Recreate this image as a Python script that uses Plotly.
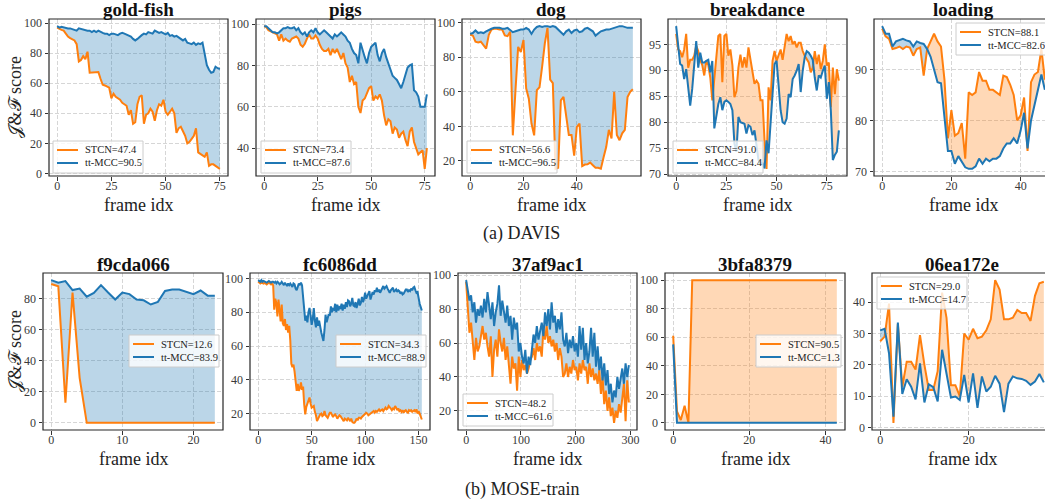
import plotly.graph_objects as go

W, H = 1045, 501

# ------------------------------------------------------------------ data
TITLES = ["gold-fish", "pigs", "dog", "breakdance", "loading",
          "f9cda066", "fc6086dd", "37af9ac1", "3bfa8379", "06ea172e"]
LABELS_STCN = ["STCN=47.4", "STCN=73.4", "STCN=56.6", "STCN=91.0", "STCN=88.1",
               "STCN=12.6", "STCN=34.3", "STCN=48.2", "STCN=90.5", "STCN=29.0"]
LABELS_TT = ["tt-MCC=90.5", "tt-MCC=87.6", "tt-MCC=96.5", "tt-MCC=84.4", "tt-MCC=82.6",
             "tt-MCC=83.9", "tt-MCC=88.9", "tt-MCC=61.6", "tt-MCC=1.3", "tt-MCC=14.7"]
CAPTIONS = ["(a) DAVIS", "(b) MOSE-train"]
X_TITLE = "frame idx"
Y_TITLE = "𝒥&ℱ score"

GOLD_STCN = [97, 96, 95.5, 95, 93, 91, 90, 89, 88.5, 86,
             74.5, 75.5, 78, 76, 81, 67, 67, 67.5, 67, 67.5,
             63, 59, 58.5, 58, 57, 50, 53, 51, 50, 49,
             47, 46, 45, 39, 42, 33, 34, 46, 51, 52,
             33, 39, 40, 43, 41, 35, 42, 46, 45, 49,
             41, 39, 41, 43, 40, 27, 30, 31, 28, 25,
             20, 21, 23, 25, 30, 14, 13, 12, 11, 14,
             5, 6, 6, 5, 4, 3]
GOLD_TT = [98, 97, 97.5, 97, 97, 96.5, 96.5, 96, 96, 95,
           96.5, 96, 95.5, 95.5, 95, 95, 94, 95, 94, 95,
           94, 93.5, 93, 93, 92, 93, 93, 92.5, 92, 93,
           93.5, 93, 92.5, 92, 91, 89.5, 88.5, 89.5, 91, 92,
           93, 92.5, 94, 93.5, 93, 95, 94.5, 93.5, 94, 93,
           92.5, 93.5, 91.5, 92, 91, 91.5, 90.5, 90, 88.5, 89.5,
           87, 86.5, 86, 87, 85.5, 86.5, 86, 87, 80, 72,
           69, 67, 67.5, 71, 70, 69.5]

PIGS_STCN = [99, 98.5, 97, 96.5, 96, 95.5, 95, 92, 95, 92,
             93, 92, 91.5, 93, 93.5, 94, 93, 90, 89, 90.5,
             93, 95, 93, 93, 94.5, 93, 90, 88, 87, 87,
             88, 85, 88, 86, 88, 85, 83, 86, 81, 79,
             72, 75, 71, 72, 60, 57, 63, 64, 67, 69,
             70, 63, 65, 64, 66, 63, 56, 51, 54, 53,
             47, 50, 49, 45, 47, 48, 44, 41, 48, 50,
             43, 40, 37, 38, 39, 30, 40]
PIGS_TT = [99, 99, 98, 97, 96, 96, 95.5, 96, 97, 98,
           98, 98.5, 98, 98, 98.5, 97, 98, 96, 95, 96,
           94, 96, 97, 96, 98, 96, 95, 96, 97, 96,
           95, 94, 93, 95, 94, 95, 96, 95, 94, 92,
           91, 88, 86, 85, 81, 91, 87, 84, 81, 86,
           89, 90, 91, 85, 82, 86, 88, 84, 81, 78,
           75, 74, 73, 71, 69, 72, 75, 79, 80, 80.5,
           68, 67, 65, 60, 60, 60, 66]

DOG_STCN = [93, 92.6, 89, 88.5, 89, 87, 85, 93, 96, 96.5,
            96.5, 96, 96, 92.6, 92.2, 94.7, 34.8, 61, 86, 83,
            90, 62, 56, 41.6, 34.8, 61, 62.6, 74.7, 88, 97,
            67, 65, 15.4, 16, 55, 57, 47, 35, 35, 23,
            39.7, 41.6, 17, 17.9, 18, 19, 17.5, 16, 16, 15.5,
            22, 28, 38, 33, 60, 35, 32, 36, 38, 57, 60, 61.5]
DOG_TT = [93.5, 94, 95.5, 94, 94.5, 94, 95, 96, 96.5, 97,
          97, 97, 96.5, 96.5, 97, 96, 94.5, 95, 95.5, 96,
          96, 97, 96, 93.5, 96, 97.5, 98, 97.5, 98, 98,
          97.5, 98, 97.5, 96, 95, 93, 95, 96, 94, 95.5,
          96, 94.5, 95, 96.5, 97, 96, 95, 92.5, 94, 95,
          95.5, 96, 96, 96.5, 97, 97.5, 98, 98, 97.5, 97, 97, 97]

BREAK_STCN = [97, 94, 93.7, 92.5, 94, 97, 90.5, 92, 92, 92.8,
              94.7, 93.7, 92, 91, 89, 91.8, 91, 88.6, 84.2, 88,
              93, 96.6, 97, 87.7, 96.6, 97, 92.8, 94, 91, 84.8,
              86, 90.5, 93, 90.5, 92.5, 90.5, 94.4, 92, 89.6, 87.4,
              88, 87.4, 84.2, 84.2, 76.5, 71, 86.7, 84.2, 91.8, 93.7,
              91.8, 93, 94, 92, 95, 97, 95.6, 96.6, 95, 95.6,
              94.4, 95.3, 95.3, 93.7, 92.8, 92, 91.5, 89.6, 90.5, 93.7,
              91.2, 93, 90.2, 91.8, 95, 90.9, 91.5, 82.9, 90.5, 85.4,
              90.2, 88]
BREAK_TT = [98.5, 94, 91.2, 90.9, 88.3, 90.2, 86.7, 83.2, 86.4, 90.5,
            95.6, 90.5, 93.4, 91.5, 91.5, 91.8, 92, 89.6, 91.8, 78.8,
            81.6, 83.5, 84.8, 82.3, 83.9, 84.2, 83.9, 83.5, 82.3, 75.9,
            74.3, 81, 80, 79.8, 79.7, 77.8, 79.4, 79.1, 77.5, 78.4,
            75.9, 72.7, 72.1, 72.1, 71.1, 76.5, 74, 79.7, 86.1, 91.2,
            91.8, 86.1, 82.3, 80, 79.7, 80.7, 85.4, 84.8, 88.3, 89,
            89.9, 91.2, 85.8, 89.9, 92.5, 93.7, 93.4, 92.8, 92, 88.6,
            86.1, 89, 88.6, 89.9, 90.9, 84.5, 87.7, 82.3, 72.7, 73.7,
            74.3, 78.4]

LOAD_STCN = [98, 96.5, 96, 94, 94.2, 94.5, 94, 94.5, 94.3, 92.7,
             94, 94.3, 88.8, 94, 95.5, 97, 95.5, 94.5, 88, 76.5,
             82, 77, 77.5, 79.5, 72.5, 85.5, 85, 85.5, 89.5, 87.8,
             87.8, 86, 86, 85.5, 85, 88.8, 88.5, 87, 85, 80,
             81, 84.5, 74, 87.5, 89, 89.5, 94, 88]
LOAD_TT = [98.5, 97, 97, 94.5, 95.5, 95.8, 96, 95.7, 95.5, 94.5,
           95.5, 95.2, 95, 94, 92.5, 90, 87.5, 87.3, 80, 74,
           74, 71.5, 73, 72, 70.8, 70.5, 70.5, 71, 72.5, 71.5,
           72.5, 72, 72.5, 72.5, 73, 74.5, 75.5, 75.5, 76.5, 75.5,
           78, 81.5, 74.5, 80, 83, 85.5, 89, 86]

F9_STCN = [89.5, 88, 13, 84, 29, 0, 0, 0, 0, 0, 0, 0,
           0, 0, 0, 0, 0, 0, 0, 0, 0, 0, 0, 0]
F9_TT = [92, 90.3, 91.4, 85.6, 86.6, 81.3, 83.8, 88.8, 84, 79.5, 84, 83,
         79.5, 79, 76.3, 78, 85, 86, 86, 84.5, 83, 85.3, 82, 82]

FC_STCN = [98, 97.5, 97, 97.5, 97, 97, 97.5, 97, 96.5, 97, 97.5, 97, 96.5, 97, 96,
           81.5, 88, 85.5, 77.5, 87.5, 79.5, 74.5, 84.5, 73.5, 72, 76, 69.5, 73, 68, 72,
           63.5, 49.5, 47.5, 49, 45, 39.5, 33.5, 37.5, 33.5, 35, 38.5, 34, 36, 25.5, 19.5,
           24, 25.5, 28, 29.5, 26, 23.5, 24, 24.5, 21, 19, 15.5, 17, 18, 19.5, 20,
           18.5, 19, 21.5, 19, 18, 17.5, 19, 20.5, 20.5, 19, 18, 19, 19.5, 18.5, 17,
           18, 19, 18.5, 17, 16.5, 15.5, 17, 16.5, 16, 17.5, 16, 15.5, 17, 15, 14.5,
           14.5, 15.5, 17, 16, 17.5, 17.5, 17, 18, 18.5, 19, 19.5, 20.5, 20, 19, 19.5,
           20, 20.5, 21, 21.5, 20.5, 21.5, 21, 22, 22.5, 21.5, 22, 22.5, 21.5, 23, 23.5,
           22.5, 23, 24.5, 24, 23, 22, 23, 22.5, 24.5, 23.5, 22, 23, 21.5, 22, 21,
           22, 20.5, 21.5, 22, 21, 20.5, 22, 21.5, 22, 21, 21.5, 22, 21, 22.5, 20,
           21.5, 20, 18, 16.5]
FC_TT = [99, 98.5, 98, 99, 98, 98.5, 98, 98, 97.5, 98, 98.5, 98, 97.5, 98, 98,
         97.5, 98, 97, 98, 97.5, 96.5, 97, 98, 97, 96, 97.5, 96.5, 95.5, 97, 96,
         97, 96, 95, 97, 96.5, 94, 93, 95, 97, 96, 97.5, 96, 88, 79.5, 75,
         78, 74, 80, 82.5, 78, 72.5, 76, 82.5, 75, 71, 77, 72, 75, 70, 68,
         65.5, 63, 69.5, 78.5, 74, 76, 79, 78, 83.5, 80, 82, 81.5, 85, 80, 84.5,
         81, 83, 82.5, 85, 81, 84.5, 82, 86, 83, 87, 86.5, 83.5, 85, 88.5, 84,
         83.5, 86, 82.5, 85, 88, 84, 85.5, 89, 86, 88, 91.5, 88, 89.5, 91, 92.5,
         87.5, 90, 92, 90.5, 93, 92, 94.5, 92, 93.5, 91.5, 93, 94, 95.5, 94, 95,
         95.5, 94, 93, 91.5, 93, 94, 94.5, 92, 93, 93.5, 92, 93, 92.5, 91, 92,
         90.5, 91, 92, 93.5, 93.5, 92, 93, 92.5, 94, 93, 94.5, 95, 93, 91.5, 92,
         87.5, 85, 83, 81]

# 37af9ac1: values read every third frame
X37_FRAMES = list(range(0, 298, 3))
A37_STCN = [96, 82, 66, 72, 60, 50, 63, 55, 58, 65,
            70, 62, 66, 58, 52, 64, 40, 56, 62, 52,
            68, 60, 55, 63, 50, 58, 46, 36, 52, 45,
            48, 32, 52, 40, 50, 44, 47, 42, 45, 50,
            52, 57, 50, 60, 55, 58, 52, 68, 62, 70,
            60, 64, 58, 62, 55, 60, 50, 57, 52, 40,
            42, 48, 40, 46, 42, 50, 44, 46, 38, 48,
            42, 50, 44, 46, 36, 48, 40, 45, 38, 42,
            36, 44, 30, 40, 24, 32, 20, 28, 17, 22,
            13, 20, 16, 24, 19, 30, 36, 14, 38, 25]
A37_TT = [97, 92, 85, 88, 78, 84, 72, 80, 76, 82,
          75, 86, 78, 90, 80, 74, 84, 70, 78, 83,
          94, 76, 85, 78, 72, 82, 70, 76, 62, 75,
          68, 72, 55, 60, 52, 48, 56, 42, 52, 47,
          58, 65, 60, 70, 62, 67, 72, 64, 78, 70,
          80, 68, 84, 72, 76, 66, 74, 68, 78, 62,
          58, 66, 54, 62, 57, 64, 55, 60, 52, 70,
          56, 69, 50, 60, 48, 55, 69, 52, 66, 46,
          58, 44, 52, 38, 48, 35, 44, 30, 36, 25,
          32, 28, 40, 33, 38, 45, 36, 48, 40, 47]

B3_STCN = [61, 8, 2, 12, 0, 100, 100, 100, 100, 100, 100,
           100, 100, 100, 100, 100, 100, 100, 100, 100, 100, 100,
           100, 100, 100, 100, 100, 100, 100, 100, 100, 100, 100,
           100, 100, 100, 100, 100, 100, 100, 100, 100, 100, 100]
B3_TT = [55, 0, 0, 0, 0, 0, 0, 0, 0, 0, 0,
         0, 0, 0, 0, 0, 0, 0, 0, 0, 0, 0,
         0, 0, 0, 0, 0, 0, 0, 0, 0, 0, 0,
         0, 0, 0, 0, 0, 0, 0, 0, 0, 0, 0]

E06_STCN = [27.5, 29, 39.5, 1.5, 33, 13, 21, 21, 18.5, 29.5,
            20, 12, 12, 18, 43, 35, 13.5, 13.5, 10, 30,
            28, 31.5, 28.5, 29, 31, 34.5, 47, 44, 34.5, 34.5,
            35, 37.5, 36.5, 36.5, 34, 42, 46, 46.5]
E06_TT = [31, 31.5, 23.7, 3.5, 33.5, 10.7, 15.4, 13, 9, 20.5,
          8, 13.8, 12.9, 8.3, 24.8, 16.8, 9.6, 9.9, 8.8, 16.8,
          8, 17.3, 6.3, 16.3, 11.5, 13, 16.5, 14, 4.9, 14,
          16.3, 15.7, 15.5, 14.9, 13.6, 14.7, 17.1, 14.4]

XTICKS = [[0, 25, 50, 75], [0, 25, 50, 75], [0, 20, 40], [0, 25, 50, 75], [0, 20, 40],
          [0, 10, 20], [0, 50, 100, 150], [0, 100, 200, 300], [0, 20, 40], [0, 20]]
YTICKS = [[0, 20, 40, 60, 80, 100], [40, 60, 80, 100], [20, 40, 60, 80, 100],
          [70, 75, 80, 85, 90, 95], [70, 80, 90], [0, 20, 40, 60, 80],
          [20, 40, 60, 80, 100], [20, 40, 60, 80, 100], [0, 20, 40, 60, 80, 100],
          [0, 10, 20, 30, 40]]

SERIES_STCN = [GOLD_STCN, PIGS_STCN, DOG_STCN, BREAK_STCN, LOAD_STCN,
               F9_STCN, FC_STCN, A37_STCN, B3_STCN, E06_STCN]
SERIES_TT = [GOLD_TT, PIGS_TT, DOG_TT, BREAK_TT, LOAD_TT,
             F9_TT, FC_TT, A37_TT, B3_TT, E06_TT]
SERIES_X = [list(range(len(s))) for s in SERIES_STCN]
SERIES_X[7] = X37_FRAMES

# ------------------------------------------------------------------ layout
SERIF = "'Liberation Serif', 'DejaVu Serif', serif"
BLUE, ORANGE = "#1f77b4", "#ff7f0e"
BLUE_FILL, ORANGE_FILL = "rgba(31,119,180,0.3)", "rgba(255,127,14,0.3)"

ROWS = [(19, 176), (273, 430)]
XTITLE_Y = [205, 459]
COLS = [[(49, 228), (256, 435), (462, 641), (668, 847), (874, 1053)],
        [(43, 223), (250, 430), (458, 637), (665, 845), (872, 1052)]]
# legend box: (anchor, x px, top px)
LEGPOS = [("l", 53, 141), ("l", 261, 141), ("l", 467, 141), ("l", 673, 141), ("l", 956, 23),
          ("r", 219, 335), ("r", 426, 335), ("l", 463, 394), ("r", 841, 335), ("l", 877, 277)]


def px(xp):
    return xp / W


def py(yp):
    return 1 - yp / H


def with_crossings(x, a, b):
    X, A, B = [x[0]], [a[0]], [b[0]]
    for i in range(1, len(x)):
        d0 = a[i - 1] - b[i - 1]
        d1 = a[i] - b[i]
        if d0 * d1 < 0:
            f = d0 / (d0 - d1)
            xc = x[i - 1] + f * (x[i] - x[i - 1])
            yc = a[i - 1] + f * (a[i] - a[i - 1])
            X.append(xc); A.append(yc); B.append(yc)
        X.append(x[i]); A.append(a[i]); B.append(b[i])
    return X, A, B


fig = go.Figure()
shapes, annotations = [], []
lay = {}

for i in range(10):
    k = i + 1
    r, c = divmod(i, 5)
    l, rr = COLS[r][c]
    t, b = ROWS[r]
    xa = "x" if k == 1 else f"x{k}"
    ya = "y" if k == 1 else f"y{k}"
    x, s, tt = SERIES_X[i], SERIES_STCN[i], SERIES_TT[i]

    X, S, T = with_crossings(x, s, tt)
    top = [max(p, q) for p, q in zip(S, T)]
    fig.add_trace(go.Scatter(x=X + X[::-1], y=top + S[::-1], fill="toself",
                             fillcolor=BLUE_FILL, mode="lines", line=dict(width=0),
                             hoverinfo="skip", showlegend=False, xaxis=xa, yaxis=ya))
    fig.add_trace(go.Scatter(x=X + X[::-1], y=top + T[::-1], fill="toself",
                             fillcolor=ORANGE_FILL, mode="lines", line=dict(width=0),
                             hoverinfo="skip", showlegend=False, xaxis=xa, yaxis=ya))
    fig.add_trace(go.Scatter(x=x, y=s, mode="lines", name=LABELS_STCN[i],
                             line=dict(color=ORANGE, width=2), showlegend=False,
                             xaxis=xa, yaxis=ya))
    fig.add_trace(go.Scatter(x=x, y=tt, mode="lines", name=LABELS_TT[i],
                             line=dict(color=BLUE, width=2), showlegend=False,
                             xaxis=xa, yaxis=ya))

    # matplotlib-like autoscale (5 % margins)
    x0, x1 = min(x), max(x)
    dx = x1 - x0
    xr = [x0 - 0.05 * dx, x1 + 0.05 * dx]
    allv = list(s) + list(tt)
    y0, y1 = min(allv), max(allv)
    dy = y1 - y0
    yr = [y0 - 0.05 * dy, y1 + 0.05 * dy]
    rvis = min(rr, W)
    if rr > W:
        xr[1] = xr[0] + (xr[1] - xr[0]) * (W - l) / (rr - l)

    tickfont = dict(family=SERIF, size=12, color="#3a3a3a")
    common = dict(ticks="outside", ticklen=3.5, tickwidth=0.8, tickcolor="#333",
                  showgrid=True, gridcolor="#d6d6d6", gridwidth=0.8, griddash="4px,2px",
                  zeroline=False, showline=False, tickfont=tickfont, fixedrange=True)
    lay["xaxis" if k == 1 else f"xaxis{k}"] = dict(
        domain=[px(l), px(rvis)], range=xr, anchor=ya, tickvals=XTICKS[i],
        ticklabelstandoff=-5, **common)
    lay["yaxis" if k == 1 else f"yaxis{k}"] = dict(
        domain=[py(b), py(t)], range=yr, anchor=xa, tickvals=YTICKS[i], **common)

    # frame
    shapes.append(dict(type="rect", xref=f"{xa} domain", yref=f"{ya} domain",
                       x0=0, x1=(rr - l) / (rvis - l), y0=0, y1=1,
                       line=dict(color="#262626", width=1.2), layer="above"))
    # title
    annotations.append(dict(text=f"<b>{TITLES[i]}</b>", xref="paper", yref="paper",
                            x=px((l + rr) / 2), y=py(t - 9), showarrow=False,
                            xanchor="center", yanchor="middle",
                            font=dict(family=SERIF, size=19, color="#111")))
    # x-axis title
    annotations.append(dict(text=X_TITLE, xref="paper", yref="paper",
                            x=px((l + rr) / 2), y=py(XTITLE_Y[r]), showarrow=False,
                            xanchor="center", yanchor="middle", borderpad=0,
                            font=dict(family=SERIF, size=18, color="#222")))

    # legend (matplotlib style)
    anch, lx, lt = LEGPOS[i]
    longest = max(len(LABELS_STCN[i]), len(LABELS_TT[i]))
    bw = 90 if longest >= 11 else 85
    L = lx if anch == "l" else lx - bw
    shapes.append(dict(type="rect", xref="paper", yref="paper",
                       x0=px(L), x1=px(L + bw), y0=py(lt + 32), y1=py(lt),
                       fillcolor="rgba(255,255,255,0.8)",
                       line=dict(color="#cccccc", width=1), layer="above"))
    for j, (lab, col) in enumerate([(LABELS_STCN[i], ORANGE), (LABELS_TT[i], BLUE)]):
        yc = lt + 9 + 13 * j
        shapes.append(dict(type="line", xref="paper", yref="paper",
                           x0=px(L + 4), x1=px(L + 25), y0=py(yc), y1=py(yc),
                           line=dict(color=col, width=2), layer="above"))
        annotations.append(dict(text=lab, xref="paper", yref="paper",
                                x=px(L + 30), y=py(yc), showarrow=False,
                                xanchor="left", yanchor="middle",
                                font=dict(family=SERIF, size=10.5, color="#222")))

# y-axis labels
for r in range(2):
    t, b = ROWS[r]
    annotations.append(dict(text=Y_TITLE, xref="paper", yref="paper",
                            x=px(14), y=py((t + b) / 2), showarrow=False, textangle=-90,
                            xanchor="center", yanchor="middle",
                            font=dict(family=SERIF, size=18, color="#222")))
# captions
annotations.append(dict(text=CAPTIONS[0], xref="paper", yref="paper", x=px(521), y=py(233),
                        showarrow=False, xanchor="center", yanchor="middle",
                        font=dict(family=SERIF, size=18, color="#222")))
annotations.append(dict(text=CAPTIONS[1], xref="paper", yref="paper", x=px(522), y=py(489),
                        showarrow=False, xanchor="center", yanchor="middle",
                        font=dict(family=SERIF, size=18, color="#222")))

fig.update_layout(width=W, height=H, margin=dict(l=0, r=0, t=0, b=0, autoexpand=False),
                  paper_bgcolor="white", plot_bgcolor="white", showlegend=False,
                  font=dict(family=SERIF),
                  shapes=shapes, annotations=annotations, **lay)

fig.write_html("out.html", config={"displayModeBar": False},
               post_script="document.body.style.margin='0';document.body.style.overflow='hidden';")
